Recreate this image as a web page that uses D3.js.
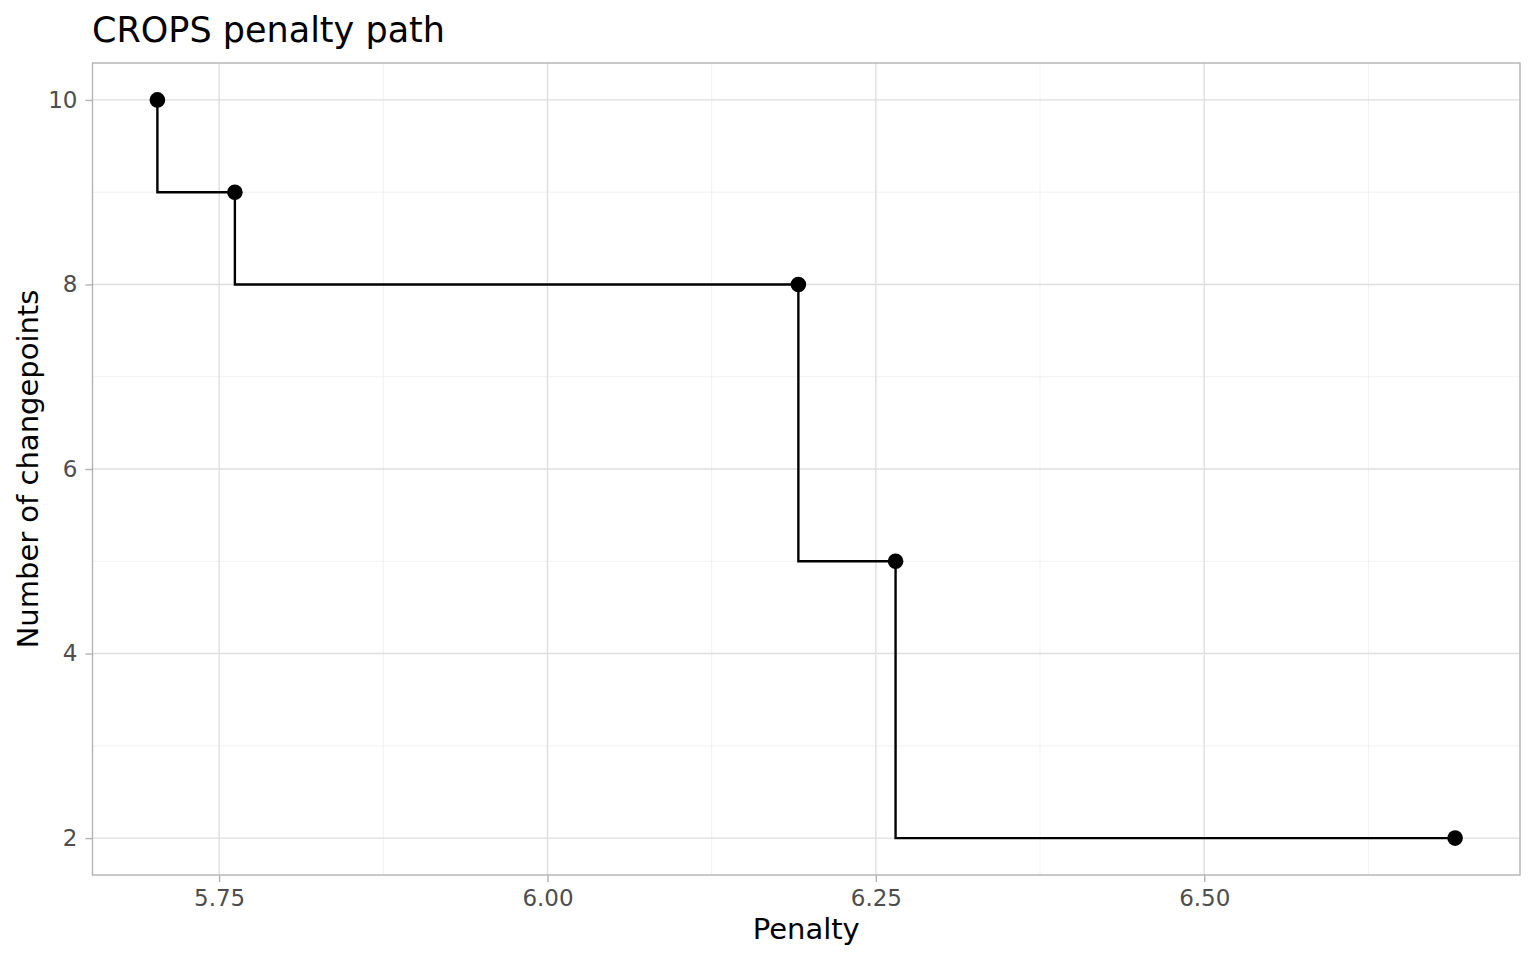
<!DOCTYPE html>
<html><head><meta charset="utf-8">
<script src="https://cdn.jsdelivr.net/npm/d3@7"></script>
<style>body{margin:0;background:#fff;} text{font-family:"DejaVu Sans",sans-serif;}</style>
</head><body><svg id="c" width="1536" height="960"></svg>
<script>
const penalty = [5.703, 5.762, 6.191, 6.265, 6.691];
const changepoints = [10, 9, 8, 5, 2];
const xTicks = [5.75, 6.00, 6.25, 6.50];
const xMinor = [5.875, 6.125, 6.375, 6.625];
const yTicks = [2, 4, 6, 8, 10];
const yMinor = [3, 5, 7, 9];

const svg = d3.select("#c");
const L = 92.5, R = 1520, T = 63, B = 875;
const xe = d3.extent(penalty), xp = (xe[1]-xe[0])*0.05;
const ye = d3.extent(changepoints), yp = (ye[1]-ye[0])*0.05;
const x = d3.scaleLinear().domain([xe[0]-xp, xe[1]+xp]).range([L, R]);
const y = d3.scaleLinear().domain([ye[0]-yp, ye[1]+yp]).range([B, T]);

const g = svg.append("g");
// minor grid
g.selectAll(".xm").data(xMinor).join("line").attr("x1", d=>x(d)).attr("x2", d=>x(d)).attr("y1", T).attr("y2", B).attr("stroke", "#ededed").attr("stroke-width", 0.8);
g.selectAll(".ym").data(yMinor).join("line").attr("y1", d=>y(d)).attr("y2", d=>y(d)).attr("x1", L).attr("x2", R).attr("stroke", "#ededed").attr("stroke-width", 0.8);
// major grid
g.selectAll(".xg").data(xTicks).join("line").attr("x1", d=>x(d)).attr("x2", d=>x(d)).attr("y1", T).attr("y2", B).attr("stroke", "#dedede").attr("stroke-width", 1.4);
g.selectAll(".yg").data(yTicks).join("line").attr("y1", d=>y(d)).attr("y2", d=>y(d)).attr("x1", L).attr("x2", R).attr("stroke", "#dedede").attr("stroke-width", 1.4);

// axes
const xAxis = d3.axisBottom(x).tickValues(xTicks).tickFormat(d3.format(".2f")).tickSize(7).tickPadding(7.5);
const yAxis = d3.axisLeft(y).tickValues(yTicks).tickFormat(d3.format("d")).tickSize(7).tickPadding(8);
const gx = svg.append("g").attr("transform", `translate(0,${B})`).call(xAxis);
const gy = svg.append("g").attr("transform", `translate(${L},0)`).call(yAxis);
[gx, gy].forEach(a => {
  a.select(".domain").remove();
  a.selectAll(".tick line").attr("stroke", "#b3b3b3").attr("stroke-width", 1.4);
  a.selectAll(".tick text").attr("fill", "#4d4d4d").style("font-size", "23px").style("font-family", "DejaVu Sans");
});

// border
svg.append("rect").attr("x", L).attr("y", T).attr("width", R-L).attr("height", B-T).attr("fill", "none").attr("stroke", "#b3b3b3").attr("stroke-width", 1.4);

// step line (vertical then horizontal)
const pts = penalty.map((p, i) => [p, changepoints[i]]);
const vh = [];
pts.forEach((d, i) => {
  vh.push(d);
  if (i < pts.length - 1) vh.push([d[0], pts[i+1][1]]);
});
svg.append("path").attr("d", d3.line().x(d=>x(d[0])).y(d=>y(d[1]))(vh)).attr("fill", "none").attr("stroke", "#000").attr("stroke-width", 2.4);

svg.selectAll(".pt").data(pts).join("circle").attr("cx", d=>x(d[0])).attr("cy", d=>y(d[1])).attr("r", 7.8).attr("fill", "#000");

// titles
svg.append("text").attr("x", 92).attr("y", 42).text("CROPS penalty path").style("font-size", "35px").attr("fill", "#000");
svg.append("text").attr("x", (L+R)/2).attr("y", 939).attr("text-anchor", "middle").text("Penalty").style("font-size", "29px").attr("fill", "#000");
svg.append("text").attr("transform", `translate(38,${(T+B)/2}) rotate(-90)`).attr("text-anchor", "middle").text("Number of changepoints").style("font-size", "29px").attr("fill", "#000");
</script></body></html>
